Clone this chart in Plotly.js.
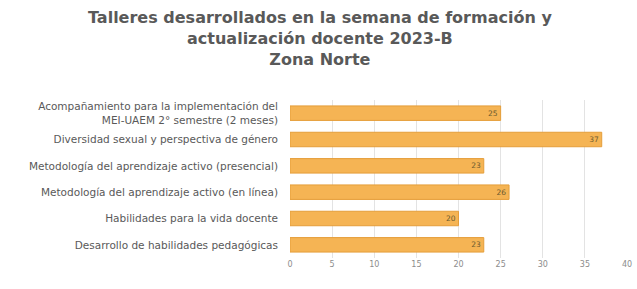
<!DOCTYPE html>
<html>
<head>
<meta charset="utf-8">
<script src="https://cdn.plot.ly/plotly-3.0.1.min.js"></script>
<style>html,body{margin:0;padding:0;background:#fff;}#chart{width:637px;height:289px;}</style>
</head>
<body>
<div id="chart"></div>
<script>
const titleText = "Talleres desarrollados en la semana de formación y<br>actualización docente 2023-B<br>Zona Norte";
const categories = [
  "Acompañamiento para la implementación del<br>MEI-UAEM 2° semestre (2 meses)",
  "Diversidad sexual y perspectiva de género",
  "Metodología del aprendizaje activo (presencial)",
  "Metodología del aprendizaje activo (en línea)",
  "Habilidades para la vida docente",
  "Desarrollo de habilidades pedagógicas"
];
const values = [25, 37, 23, 26, 20, 23];
const tickValues = [0, 5, 10, 15, 20, 25, 30, 35, 40];
const tickLabels = ["0", "5", "10", "15", "20", "25", "30", "35", "40"];

const trace = {
  type: "bar",
  orientation: "h",
  y: categories,
  x: values,
  text: values.map(String),
  textposition: "inside",
  insidetextanchor: "end",
  textfont: {family: "DejaVu Sans, sans-serif", size: 8, color: "#6b5a2e"},
  marker: {color: "#F5B454", line: {color: "#E59E3A", width: 1}},
  hoverinfo: "none"
};

const layout = {
  width: 637, height: 289,
  margin: {l: 290, r: 10, t: 100, b: 31},
  paper_bgcolor: "#ffffff",
  plot_bgcolor: "#ffffff",
  annotations: [{
    text: "<b>" + titleText + "</b>",
    xref: "paper", yref: "paper",
    x: 0.089, xanchor: "center",
    y: 1.595, yanchor: "top",
    showarrow: false, align: "center",
    font: {family: "DejaVu Sans, sans-serif", size: 16, color: "#595959"}
  }],
  bargap: 0.45,
  showlegend: false,
  xaxis: {
    range: [0, 40],
    tickvals: tickValues,
    ticktext: tickLabels,
    showgrid: true, gridcolor: "#e3e3e3", gridwidth: 1,
    zeroline: false, showline: false, ticks: "",
    tickfont: {family: "DejaVu Sans, sans-serif", size: 8, color: "#8c8c8c"}
  },
  yaxis: {
    autorange: "reversed",
    showgrid: false, zeroline: false, showline: false,
    ticks: "", ticklabelstandoff: 11,
    tickfont: {family: "DejaVu Sans, sans-serif", size: 10.5, color: "#595959"}
  }
};

Plotly.newPlot("chart", [trace], layout, {displayModeBar: false, staticPlot: true});
</script>
</body>
</html>
